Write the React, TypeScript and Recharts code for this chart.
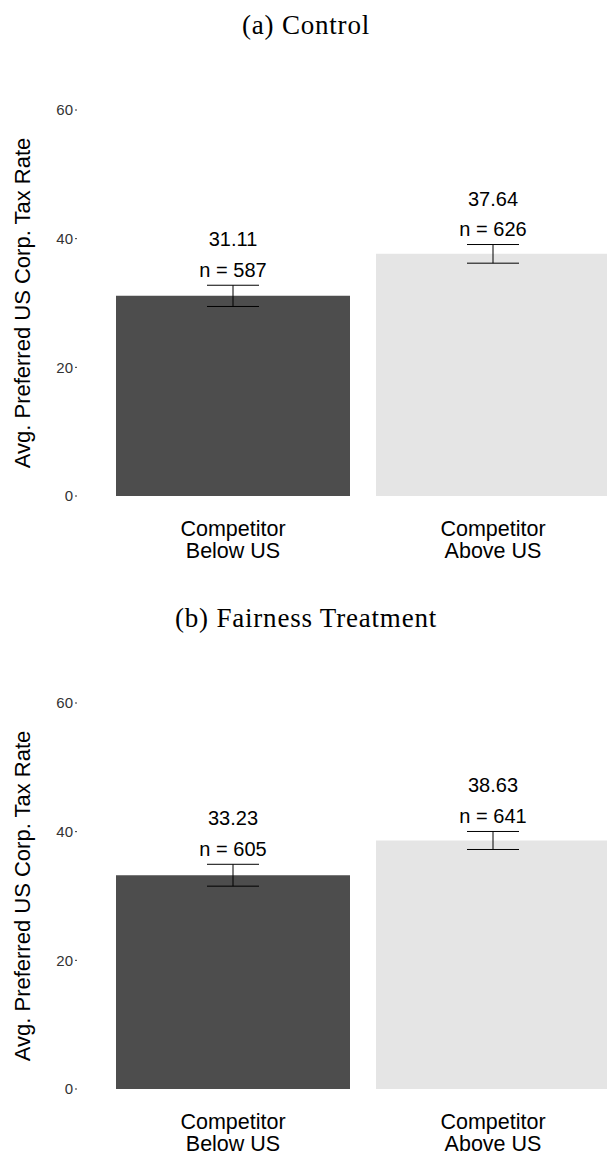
import React from 'react';
import { BarChart, Bar, XAxis, YAxis, Cell, ErrorBar, LabelList, Label } from 'recharts';

const categories = ['Competitor Below US', 'Competitor Above US'];
const categoryLines = [
  ['Competitor', 'Below US'],
  ['Competitor', 'Above US'],
];
const controlMeans = [31.11, 37.64];
const controlN = [587, 626];
const controlErr = [1.65, 1.45];
const fairnessMeans = [33.23, 38.63];
const fairnessN = [605, 641];
const fairnessErr = [1.7, 1.4];
const yTicks = [0, 20, 40, 60];
const barColors = ['#4D4D4D', '#E5E5E5'];
const panelTitles = ['(a) Control', '(b) Fairness Treatment'];
const yAxisTitle = 'Avg. Preferred US Corp. Tax Rate';

const SANS = '"Liberation Sans", Arial, Helvetica, sans-serif';
const SERIF = '"Liberation Serif", "DejaVu Serif", serif';

type Row = { category: string; mean: number; n: number; err: number };

function buildRows(means: number[], ns: number[], errs: number[]): Row[] {
  return categories.map((c, i) => ({ category: c, mean: means[i], n: ns[i], err: errs[i] }));
}

const XTick = (props: any) => {
  const { x, y, payload } = props;
  const idx = categories.indexOf(payload.value);
  const lines = categoryLines[idx] || [String(payload.value), ''];
  return (
    <g>
      <text x={x} y={y + 40} textAnchor="middle" fontFamily={SANS} fontSize={21.5} fill="#000">
        {lines[0]}
      </text>
      <text x={x} y={y + 62} textAnchor="middle" fontFamily={SANS} fontSize={21.5} fill="#000">
        {lines[1]}
      </text>
    </g>
  );
};

const makeLabel = (rows: Row[]) => (props: any) => {
  const x = Number(props.x);
  const y = Number(props.y);
  const width = Number(props.width);
  const height = Number(props.height);
  const r = rows[props.index];
  if (!r) return null;
  const pxPerUnit = height / r.mean;
  const top = y - r.err * pxPerUnit;
  const cx = x + width / 2;
  return (
    <g>
      <text x={cx} y={top - 46} textAnchor="middle" dominantBaseline="central" fontFamily={SANS} fontSize={20} fill="#000">
        {r.mean.toFixed(2)}
      </text>
      <text x={cx} y={top - 15.5} textAnchor="middle" dominantBaseline="central" fontFamily={SANS} fontSize={20} fill="#000">
        {`n = ${r.n}`}
      </text>
    </g>
  );
};

const YTitle = (props: any) => {
  const vb = props.viewBox || { y: 110, height: 386 };
  const cy = vb.y + vb.height / 2;
  const bx = 30;
  return (
    <text x={bx} y={cy} transform={`rotate(-90 ${bx} ${cy})`} textAnchor="middle" fontFamily={SANS} fontSize={22} fill="#000">
      {yAxisTitle}
    </text>
  );
};

function Panel({ title, rows }: { title: string; rows: Row[] }) {
  return (
    <div style={{ position: 'relative', width: 607, height: 593, overflow: 'hidden' }}>
      <div
        style={{
          position: 'absolute',
          top: 9,
          left: 0,
          width: 612,
          textAlign: 'center',
          fontFamily: SERIF,
          fontSize: 27,
          letterSpacing: 0.8,
          lineHeight: '32px',
          color: '#000',
        }}
      >
        {title}
      </div>
      <BarChart
        width={680}
        height={593}
        data={rows}
        margin={{ top: 110, right: 0, bottom: 67, left: 0 }}
        barCategoryGap={13}
      >
        <XAxis
          dataKey="category"
          height={30}
          axisLine={false}
          tickLine={false}
          tickSize={0}
          tickMargin={0}
          padding={{ left: 26, right: 57 }}
          tick={<XTick />}
          interval={0}
        />
        <YAxis
          width={77}
          domain={[0, 60]}
          ticks={yTicks}
          axisLine={false}
          tickSize={2}
          tickMargin={2}
          tickLine={{ stroke: '#333' }}
          tick={{ fontSize: 15, fill: '#333', fontFamily: SANS }}
          allowDataOverflow
        >
          <Label content={<YTitle />} />
        </YAxis>
        <Bar dataKey="mean" isAnimationActive={false}>
          {rows.map((r, i) => (
            <Cell key={r.category} fill={barColors[i]} />
          ))}
          <ErrorBar dataKey="err" width={26} stroke="#000" strokeWidth={1} direction="y" />
          <LabelList dataKey="mean" content={makeLabel(rows)} />
        </Bar>
      </BarChart>
    </div>
  );
}

export default function App() {
  const controlRows = buildRows(controlMeans, controlN, controlErr);
  const fairnessRows = buildRows(fairnessMeans, fairnessN, fairnessErr);
  return (
    <div
      style={{
        position: 'absolute',
        left: 0,
        top: 0,
        width: 607,
        height: 1155,
        overflow: 'hidden',
        background: '#fff',
      }}
    >
      <Panel title={panelTitles[0]} rows={controlRows} />
      <Panel title={panelTitles[1]} rows={fairnessRows} />
    </div>
  );
}
